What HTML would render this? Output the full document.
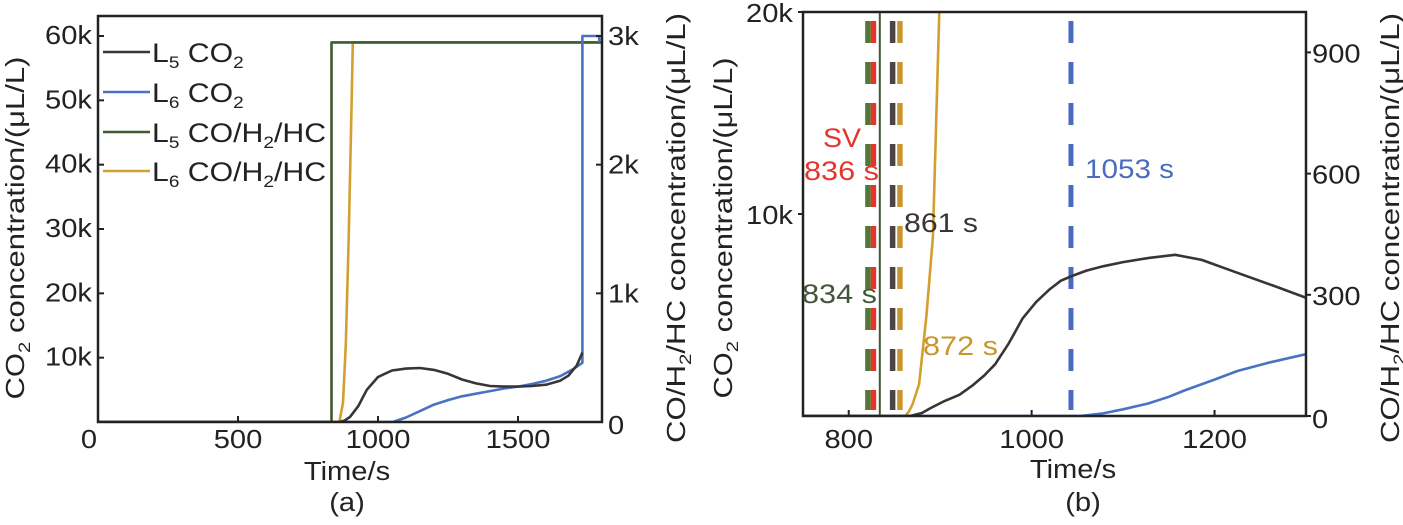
<!DOCTYPE html>
<html><head><meta charset="utf-8"><style>
body{margin:0;background:#fff;}
svg text{font-family:"Liberation Sans",sans-serif;}
</style></head><body>
<svg id="s" width="1403" height="520" viewBox="0 0 1403 520" xmlns="http://www.w3.org/2000/svg"></svg>
<script>
// ---- Chart (a) data ----
const aL5co2X = [0, 861, 880, 900, 930, 960, 1000, 1050, 1100, 1150, 1200, 1250, 1300, 1350, 1400, 1450, 1500, 1550, 1600, 1650, 1680, 1710, 1730];
const aL5co2Y = [0, 0, 200, 800, 2500, 5000, 7000, 8000, 8300, 8400, 8100, 7500, 6600, 6000, 5600, 5500, 5500, 5600, 5800, 6400, 7200, 8800, 10800];
const aL6co2X = [0, 1053, 1100, 1150, 1200, 1250, 1300, 1350, 1400, 1450, 1500, 1550, 1600, 1650, 1700, 1730, 1730, 1790, 1790];
const aL6co2Y = [0, 0, 700, 1700, 2700, 3400, 4000, 4400, 4800, 5200, 5500, 5900, 6400, 7100, 8300, 9200, 60000, 60000, 59000];
const aL5hcX = [0, 834, 834, 1800];
const aL5hcY = [0, 0, 2950, 2950];
const aL6hcX = [0, 862, 875, 885, 895, 905, 910, 1800];
const aL6hcY = [0, 0, 150, 600, 1400, 2400, 2950, 2950];
const aXTicks = [0, 500, 1000, 1500];
const aYTicks = [10000, 20000, 30000, 40000, 50000, 60000];
const aYLabels = ["10k", "20k", "30k", "40k", "50k", "60k"];
const aY2Ticks = [0, 1000, 2000, 3000];
const aY2Labels = ["0", "1k", "2k", "3k"];
// ---- Chart (b) data ----
const bL5co2X = [750, 867, 880, 890, 905, 921, 935, 948, 960, 975, 990, 1005, 1020, 1032, 1044, 1060, 1078, 1100, 1127, 1157, 1186, 1225, 1265, 1300];
const bL5co2Y = [0, 0, 150, 400, 750, 1050, 1500, 2000, 2560, 3600, 4820, 5650, 6280, 6700, 6930, 7200, 7410, 7620, 7815, 7980, 7730, 7090, 6440, 5850];
const bL6co2X = [750, 1053, 1078, 1100, 1127, 1150, 1167, 1200, 1225, 1260, 1300];
const bL6co2Y = [0, 0, 130, 330, 615, 950, 1260, 1800, 2230, 2650, 3060];
const bL6hcX = [750, 862, 866, 870, 877, 885, 892, 899, 905];
const bL6hcY = [0, 0, 12, 30, 79, 250, 443, 1000, 1200];
const bL5hcX = [750, 834, 834];
const bL5hcY = [0, 0, 1000];
const bMarkX = [821, 827, 848, 856, 1043];
const bMarkColors = ["#4f7a35", "#e5352b", "#4d4444", "#c9962e", "#4a6bbf"];
const bXTicks = [800, 1000, 1200];
const bYTicks = [10000, 20000];
const bYLabels = ["10k", "20k"];
const bY2Ticks = [0, 300, 600, 900];

const S = document.getElementById('s');
const NS = 'http://www.w3.org/2000/svg';
const SX = 1.12;
function el(tag, attrs, parent) {
  const e = document.createElementNS(NS, tag);
  for (const k in attrs) e.setAttribute(k, attrs[k]);
  (parent || S).appendChild(e);
  return e;
}
function txt(x, y, size, anchor, color, rot, parent, len) {
  const a = {x: 0, y: 0, 'font-size': size, 'text-anchor': anchor, fill: color,
    transform: 'translate(' + x + ',' + y + ')' + (rot ? ' rotate(-90)' : '') + (len ? '' : ' scale(' + SX + ',1)')};
  if (len) { a.textLength = len; a.lengthAdjust = 'spacingAndGlyphs'; }
  return el('text', a, parent);
}
function makeAxes(x0, x1, xmin, xmax, y0, y1, ymax, y2max) {
  return {
    sx: v => x0 + (v - xmin) / (xmax - xmin) * (x1 - x0),
    sy: v => y0 - v / ymax * (y0 - y1),
    sy2: v => y0 - v / y2max * (y0 - y1)
  };
}
function line(xs, ys, fx, fy, color, name, g) {
  const d = xs.map((x, i) => (i ? 'L' : 'M') + fx(x).toFixed(1) + ',' + fy(ys[i]).toFixed(1)).join(' ');
  const p = el('path', {d: d, fill: 'none', stroke: color, 'stroke-width': 2.6, 'stroke-linejoin': 'round'}, g);
  
  
  return p;
}
const CBLK = '#3b3434', CBLUE = '#4a72c4', CGRN = '#3f5a30', CORG = '#d3a030';
const SUB = (s) => '<tspan font-size="17" dy="6">' + s + '</tspan><tspan dy="-6">';

// ================= Chart A =================
(function () {
  const X0 = 98, X1 = 602, Y0 = 422, Y1 = 16;
  const A = makeAxes(X0, X1, 0, 1800, Y0, 36, 60000, 3000);
  const clip = el('clipPath', {id: 'ca'});
  el('rect', {x: X0, y: Y1, width: X1 - X0, height: Y0 - Y1}, clip);
  const g = el('g', {'clip-path': 'url(#ca)'});
  
  
  line(aL6hcX, aL6hcY, A.sx, A.sy2, CORG, 'series-l6-co-h2-hc', g);
  line(aL5hcX, aL5hcY, A.sx, A.sy2, CGRN, 'series-l5-co-h2-hc', g);
  line(aL6co2X, aL6co2Y, A.sx, A.sy, CBLUE, 'series-l6-co2', g);
  line(aL5co2X, aL5co2Y, A.sx, A.sy, CBLK, 'series-l5-co2', g);
  const fr = el('rect', {x: X0, y: Y1, width: X1 - X0, height: Y0 - Y1, fill: 'none', stroke: '#222', 'stroke-width': 2.5});
  
  
  aXTicks.forEach(v => {
    el('line', {x1: A.sx(v), x2: A.sx(v), y1: Y0, y2: Y0 - 6, stroke: '#222', 'stroke-width': 2});
    const t = txt(A.sx(v) - (v === 0 ? 9 : 0), 448, 26, 'middle', '#222');
    t.textContent = v;
    
    
  });
  aYTicks.forEach((v, i) => {
    el('line', {x1: X0, x2: X0 + 6, y1: A.sy(v), y2: A.sy(v), stroke: '#222', 'stroke-width': 2});
    const t = txt(X0 - 6, A.sy(v) + 8, 26, 'end', '#222');
    t.textContent = aYLabels[i];
    
    
  });
  aY2Ticks.forEach((v, i) => {
    el('line', {x1: X1, x2: X1 - 6, y1: A.sy2(v), y2: A.sy2(v), stroke: '#222', 'stroke-width': 2});
    const t = txt(X1 + 6, A.sy2(v) + 9 + (v === 0 ? 3 : 0), 26, 'start', '#222');
    t.textContent = aY2Labels[i];
    
    
  });
  const leg = [[CBLK, '5', ' CO', '2', ''], [CBLUE, '6', ' CO', '2', ''], [CGRN, '5', ' CO/H', '2', '/HC'], [CORG, '6', ' CO/H', '2', '/HC']];
  const ly = [52, 92, 132, 171];
  leg.forEach((l, i) => {
    const lg = el('g', {});
    
    
    el('line', {x1: 103, x2: 150, y1: ly[i], y2: ly[i], stroke: l[0], 'stroke-width': 2.6}, lg);
    const t = txt(152, ly[i] + 10, 27, 'start', '#222', false, lg);
    t.innerHTML = 'L' + SUB(l[1]) + l[2] + '</tspan>' + (l[3] ? SUB(l[3]) + l[4] + '</tspan>' : '');
  });
  const xt = txt(347, 480, 26, 'middle', '#222');
  xt.textContent = 'Time/s';
  
  
  const cap = txt(347, 511, 26, 'middle', '#222');
  cap.textContent = '(a)';
  
  
  const yt = txt(24, 228, 26, 'middle', '#222', true, null, 343);
  yt.innerHTML = 'CO' + SUB('2') + ' concentration/(μL/L)</tspan>';
  
  
  const yt2 = txt(685, 228, 26, 'middle', '#222', true, null, 430);
  yt2.innerHTML = 'CO/H' + SUB('2') + '/HC concentration/(μL/L)</tspan>';
  
  
})();

// ================= Chart B =================
(function () {
  const X0 = 803, X1 = 1306, Y0 = 416, Y1 = 12;
  const B = makeAxes(X0, X1, 750, 1300, Y0, Y1, 20000, 1000);
  const clip = el('clipPath', {id: 'cb'});
  el('rect', {x: X0, y: Y1, width: X1 - X0, height: Y0 - Y1}, clip);
  const g = el('g', {'clip-path': 'url(#cb)'});
  
  
  bMarkX.forEach((v, i) => {
    const m = el('line', {x1: B.sx(v), x2: B.sx(v), y1: 21, y2: 410, stroke: bMarkColors[i], 'stroke-width': i === 4 ? 5 : 5.5, 'stroke-dasharray': '22 19'}, g);
    
    
  });
  line(bL5hcX, bL5hcY, B.sx, B.sy2, CGRN, 'series-l5-co-h2-hc', g).setAttribute('stroke-width', 2);
  line(bL6hcX, bL6hcY, B.sx, B.sy2, CORG, 'series-l6-co-h2-hc', g);
  line(bL6co2X, bL6co2Y, B.sx, B.sy, CBLUE, 'series-l6-co2', g);
  line(bL5co2X, bL5co2Y, B.sx, B.sy, CBLK, 'series-l5-co2', g);
  const fr = el('rect', {x: X0, y: Y1, width: X1 - X0, height: Y0 - Y1, fill: 'none', stroke: '#222', 'stroke-width': 2.5});
  
  
  bXTicks.forEach(v => {
    el('line', {x1: B.sx(v), x2: B.sx(v), y1: Y0, y2: Y0 - 6, stroke: '#222', 'stroke-width': 2});
    const t = txt(B.sx(v), 448, 26, 'middle', '#222');
    t.textContent = v;
    
    
  });
  bYTicks.forEach((v, i) => {
    el('line', {x1: X0, x2: X0 - 5, y1: B.sy(v), y2: B.sy(v), stroke: '#222', 'stroke-width': 2});
    const t = txt(X0 - 10, B.sy(v) + (v === 20000 ? 10 : 10), 26, 'end', '#222');
    t.textContent = bYLabels[i];
    
    
  });
  bY2Ticks.forEach(v => {
    el('line', {x1: X1, x2: X1 + 5, y1: B.sy2(v), y2: B.sy2(v), stroke: '#222', 'stroke-width': 2});
    const t = txt(X1 + 6, B.sy2(v) + 10 + (v === 0 ? 2 : 0), 26, 'start', '#222');
    t.textContent = v;
    
    
  });
  const ann = [['SV', 823, 147, '#e5352b', 38], ['836 s', 804, 180, '#e5352b', 75], ['861 s', 904, 232, '#3b3434', 74], ['834 s', 802, 303, '#44563a', 75], ['872 s', 923, 355, '#c9962e', 75], ['1053 s', 1085, 178, '#4a6bbf', 89]];
  ann.forEach(a => {
    const t = txt(a[1], a[2], 27, 'start', a[3], false, null, a[4]);
    t.textContent = a[0];
    
    
  });
  const xt = txt(1073, 478, 26, 'middle', '#222');
  xt.textContent = 'Time/s';
  
  
  const cap = txt(1083, 511, 26, 'middle', '#222');
  cap.textContent = '(b)';
  
  
  const yt = txt(732, 228, 26, 'middle', '#222', true, null, 341);
  yt.innerHTML = 'CO' + SUB('2') + ' concentration/(μL/L)</tspan>';
  
  
  const yt2 = txt(1399, 228, 26, 'middle', '#222', true, null, 430);
  yt2.innerHTML = 'CO/H' + SUB('2') + '/HC concentration/(μL/L)</tspan>';
  
  
})();
</script>
</body></html>
